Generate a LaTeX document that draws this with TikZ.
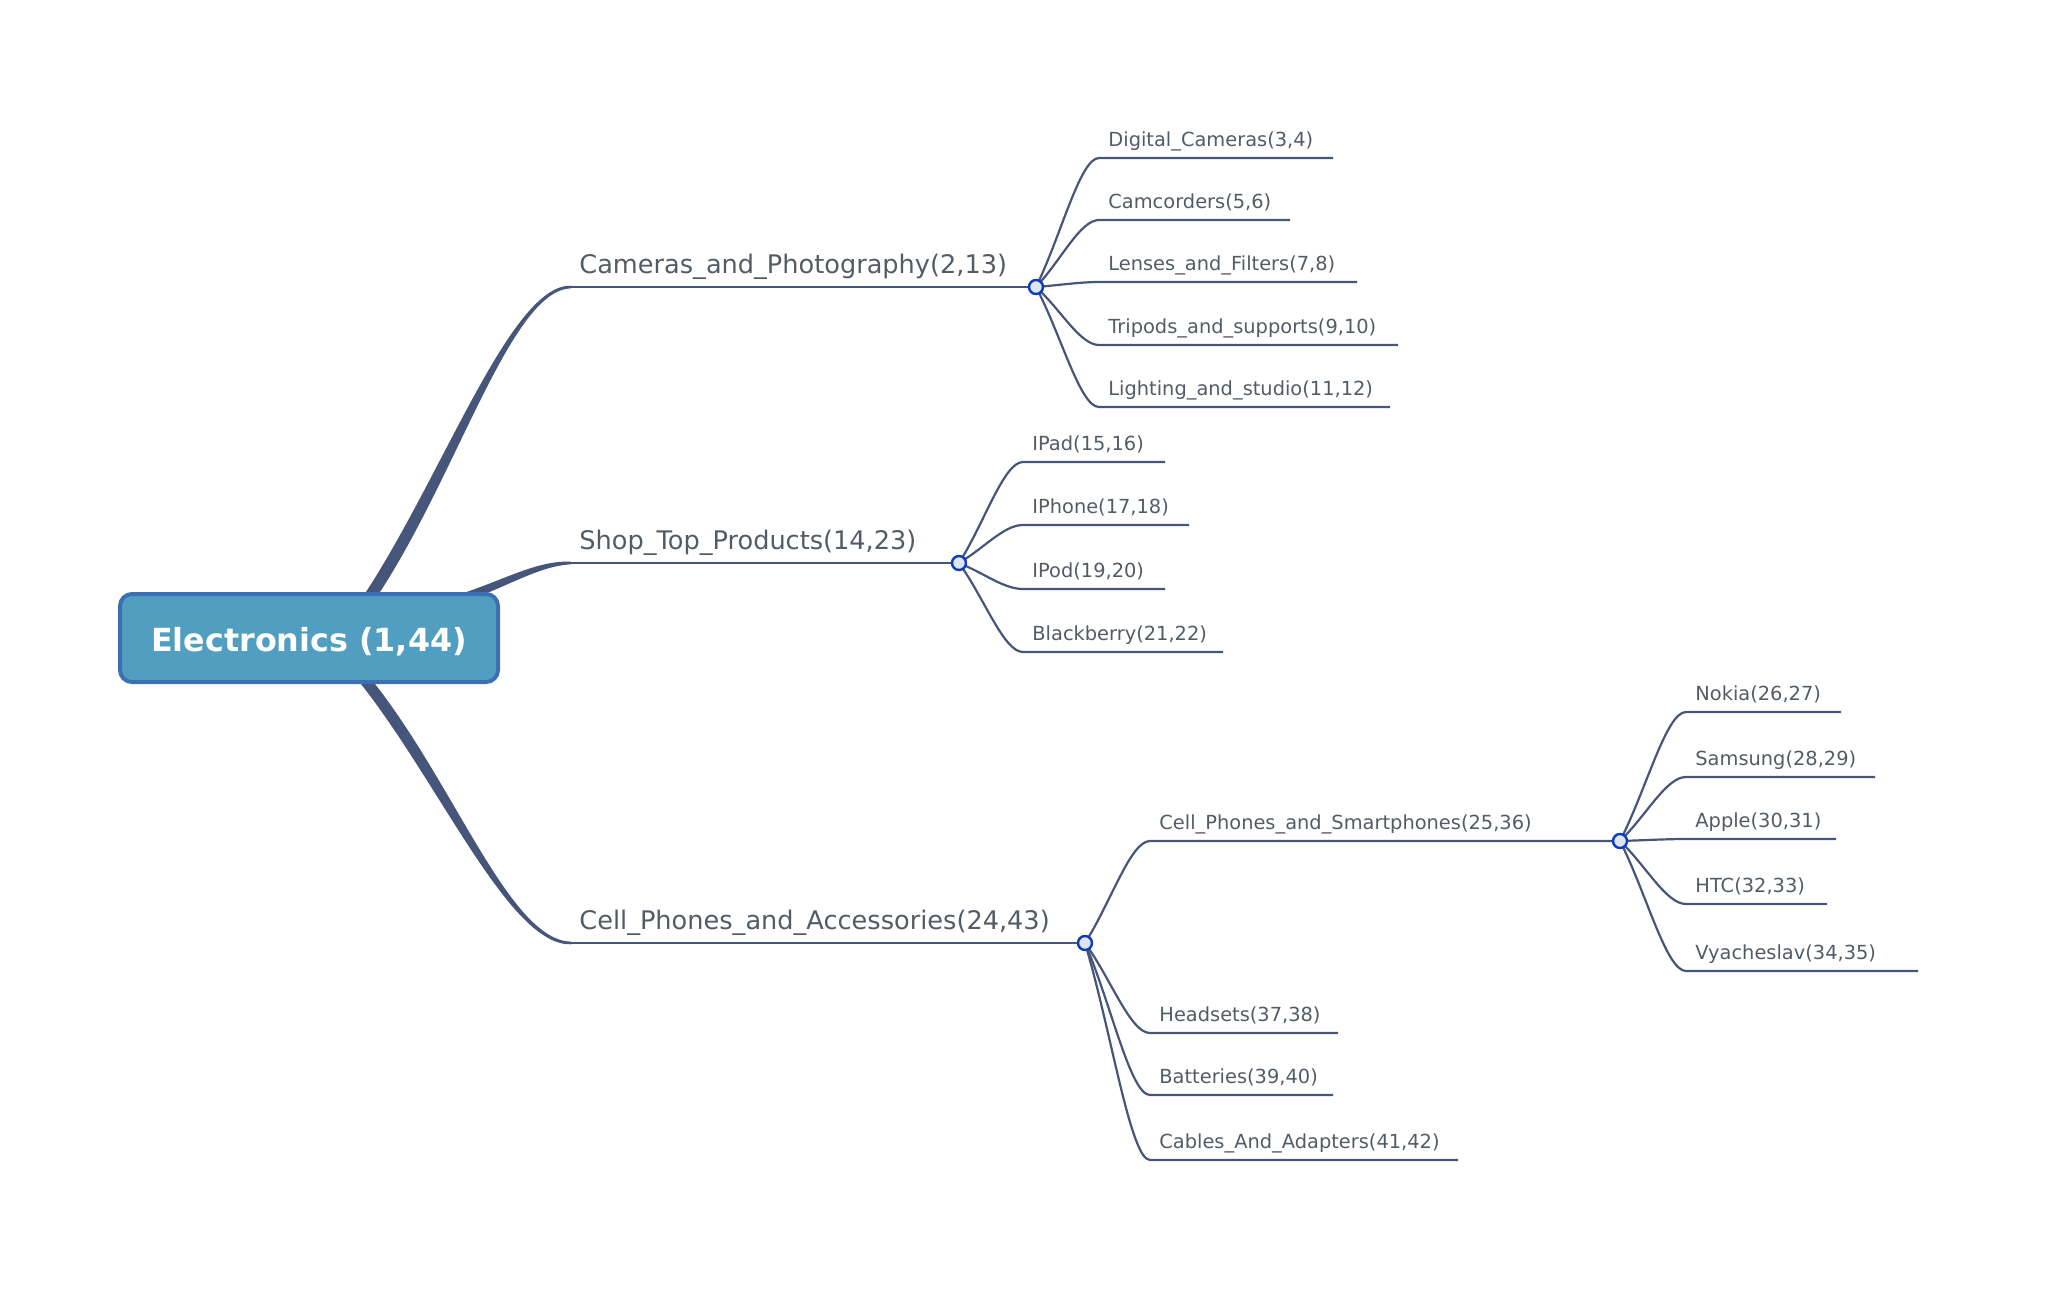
\documentclass[tikz,border=0pt]{standalone}
\usepackage{fontspec}
\setmainfont{DejaVu Sans}
\usetikzlibrary{calc,backgrounds}

\definecolor{inkline}{HTML}{46567A}
\definecolor{inktext}{HTML}{525C66}
\definecolor{rootfill}{HTML}{529EC1}
\definecolor{rootedge}{HTML}{3B70B5}
\definecolor{knobfill}{HTML}{DFE4EF}
\definecolor{knobedge}{HTML}{0A3CC2}

\tikzset{
	rootbox/.style={draw=rootedge, fill=rootfill, line width=2pt, rounded corners=6pt,
		minimum width=189pt, minimum height=44pt, text=white,
		text height=13pt, text depth=0pt,
		font=\fontsize{15.9}{19}\bfseries\selectfont},
	topic/.style={anchor=base west, inner sep=0pt, xshift=4pt, yshift=7pt,
		text=inktext, font=\fontsize{12.8}{15}\selectfont},
	leaf/.style={anchor=base west, inner sep=0pt, xshift=4.5pt, yshift=6pt,
		text=inktext, font=\fontsize{9.7}{12}\selectfont},
	knob/.style={circle, draw=knobedge, fill=knobfill, line width=1.2pt,
		minimum size=7pt, inner sep=0pt},
	trunk/.style={fill=inkline},
	limb/.style={draw=inkline, line width=1.3pt},
	twig/.style={draw=inkline, line width=1.1pt},
	branch/.style={to path={.. controls ($(\tikztostart)!0.4!(\tikztotarget)$)
		and ($(\tikztotarget)!0.3!(\tikztostart|-\tikztotarget)$) .. (\tikztotarget)}}
}

% tapered connector: start, end, half width at start
\newcommand\drawtrunk[3]{%
	\fill[trunk] ($(#1)-(#3)$) .. controls ($(#1)!0.4!(#2)-(#3)$)
		and ($(#2)!0.3!(#1|-#2)+(0,-3)$) .. ($(#2)+(0,-1.3)$)
		-- ($(#2)+(0,1.3)$) .. controls ($(#2)!0.3!(#1|-#2)+(0,3)$)
		and ($(#1)!0.4!(#2)+(#3)$) .. ($(#1)+(#3)$) -- cycle;}

\begin{document}
\begin{tikzpicture}[x=0.5pt,y=-0.5pt]
	\useasboundingbox (0,0) rectangle (2048,1295);

	\node[rootbox] (root) at (309,638) {Electronics (1,44)};
	\coordinate (cam-r) at ($(root.north)+(64,0)$);
	\coordinate (shop-r) at ($(root.north)+(150,7)$);
	\coordinate (cell-r) at ($(root.south)+(59,0)$);

	% first level
	\coordinate (cam) at (571,287);
	\coordinate (shop) at (571,563);
	\coordinate (cell) at (571,943);
	\node[topic] (cam-t) at (cam) {Cameras\_and\_Photography(2,13)};
	\node[topic] (shop-t) at (shop) {Shop\_Top\_Products(14,23)};
	\node[topic] (cell-t) at (cell) {Cell\_Phones\_and\_Accessories(24,43)};
	\node[knob] (cam-k) at (1036,287) {};
	\node[knob] (shop-k) at (959,563) {};
	\node[knob] (cell-k) at (1085,943) {};

	% second level
	\foreach \n/\y/\e/\t in {dig/158/1333/{Digital\_Cameras(3,4)},
		camc/220/1290/{Camcorders(5,6)}, lens/282/1357/{Lenses\_and\_Filters(7,8)},
		trip/345/1398/{Tripods\_and\_supports(9,10)},
		light/407/1390/{Lighting\_and\_studio(11,12)}} {
		\coordinate (\n) at (1099,\y);
		\coordinate (\n-e) at (\e,\y);
		\node[leaf] (\n-t) at (\n) {\t};
	}
	\foreach \n/\y/\e/\t in {ipad/462/1165/{IPad(15,16)}, iphone/525/1189/{IPhone(17,18)},
		ipod/589/1165/{IPod(19,20)}, bb/652/1223/{Blackberry(21,22)}} {
		\coordinate (\n) at (1023,\y);
		\coordinate (\n-e) at (\e,\y);
		\node[leaf] (\n-t) at (\n) {\t};
	}
	\foreach \n/\y/\e/\t in {head/1033/1338/{Headsets(37,38)},
		batt/1095/1333/{Batteries(39,40)},
		cable/1160/1458/{Cables\_And\_Adapters(41,42)}} {
		\coordinate (\n) at (1150,\y);
		\coordinate (\n-e) at (\e,\y);
		\node[leaf] (\n-t) at (\n) {\t};
	}
	\coordinate (smart) at (1150,841);
	\node[leaf] (smart-t) at (smart) {Cell\_Phones\_and\_Smartphones(25,36)};
	\node[knob] (smart-k) at (1620,841) {};

	% third level
	\foreach \n/\y/\e/\t in {nokia/712/1841/{Nokia(26,27)}, sams/777/1875/{Samsung(28,29)},
		apple/839/1836/{Apple(30,31)}, htc/904/1827/{HTC(32,33)},
		vya/971/1918/{Vyacheslav(34,35)}} {
		\coordinate (\n) at (1686,\y);
		\coordinate (\n-e) at (\e,\y);
		\node[leaf] (\n-t) at (\n) {\t};
	}

	\begin{scope}[on background layer]
		\drawtrunk{cam-r}{cam}{7,0}
		\drawtrunk{shop-r}{shop}{0,4.5}
		\drawtrunk{cell-r}{cell}{-7,0}
		\draw[limb] (cam) -- (cam-k.center);
		\draw[limb] (shop) -- (shop-k.center);
		\draw[limb] (cell) -- (cell-k.center);
		\foreach \n in {dig,camc,lens,trip,light}
			\draw[twig] (cam-k.center) to[branch] (\n) -- (\n-e);
		\foreach \n in {ipad,iphone,ipod,bb}
			\draw[twig] (shop-k.center) to[branch] (\n) -- (\n-e);
		\foreach \n in {head,batt,cable}
			\draw[twig] (cell-k.center) to[branch] (\n) -- (\n-e);
		\draw[twig] (cell-k.center) to[branch] (smart) -- (smart-k.center);
		\foreach \n in {nokia,sams,apple,htc,vya}
			\draw[twig] (smart-k.center) to[branch] (\n) -- (\n-e);
	\end{scope}
\end{tikzpicture}
\end{document}
